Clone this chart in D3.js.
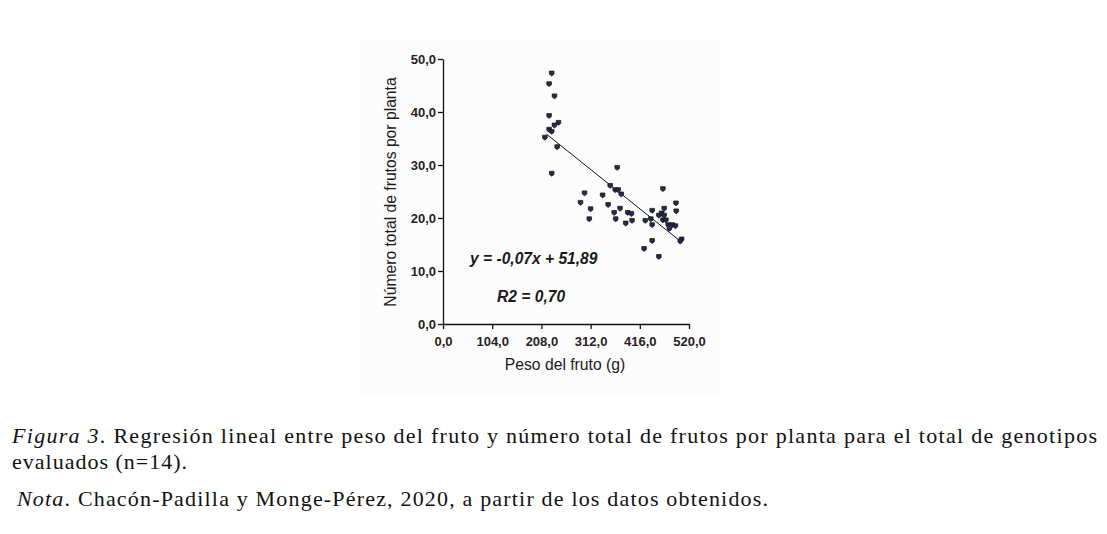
<!DOCTYPE html>
<html>
<head>
<meta charset="utf-8">
<script src="https://cdn.jsdelivr.net/npm/d3@7"></script>
<style>
  body { margin: 0; background: #fff; }
  svg { display: block; }
</style>
</head>
<body>
<script>
// peso del fruto (g) y numero total de frutos por planta
const pesoFruto = [
  229.8, 224.3, 235.6, 224.3, 244.1, 235.6, 224.3, 229.8, 215.4, 241.3, 229.8,
  368.2, 290.7, 299.2, 312.0, 309.2, 337.4, 349.1, 361.8, 353.4, 364.0, 370.3,
  376.7, 374.2, 365.0, 386.2, 390.5, 398.3, 399.6, 464.8, 442.1, 427.6, 439.3,
  442.1, 456.3, 462.0, 467.5, 467.5, 464.8, 471.1, 476.0, 484.5, 491.3, 478.6,
  492.4, 493.0, 504.5, 501.5, 442.1, 425.1, 456.3
];
const frutosPlanta = [
  47.3, 45.3, 43.0, 39.3, 38.0, 37.5, 36.7, 36.3, 35.2, 33.4, 28.4,
  29.5, 22.9, 24.7, 21.7, 19.8, 24.3, 22.5, 21.0, 26.1, 25.3, 25.3,
  24.5, 21.8, 19.8, 19.0, 21.0, 20.8, 19.5, 25.5, 21.4, 19.5, 19.8,
  18.7, 20.5, 20.9, 20.5, 21.8, 19.6, 19.6, 18.7, 18.7, 18.5, 18.0,
  22.8, 21.3, 16.0, 15.6, 15.7, 14.2, 12.7
];
// extremos de la recta de regresion
const rectaX = [219, 503.5];
const rectaY = [35.8, 15.5];
// marcas de los ejes
const ticksX = [0, 104, 208, 312, 416, 520];
const ticksY = [0, 10, 20, 30, 40, 50];

const width = 1107, height = 534;
const fmt = v => d3.format(".1f")(v).replace(".", ",");
const sans = "'Liberation Sans', Arial, sans-serif";

const svg = d3.select("body").append("svg")
  .attr("width", width)
  .attr("height", height);

// fondo de la imagen del grafico
svg.append("rect")
  .attr("x", 360).attr("y", 40)
  .attr("width", 360).attr("height", 355)
  .attr("fill", "#fcfcfc");

const x = d3.scaleLinear().domain([0, 520]).range([443, 689]);
const y = d3.scaleLinear().domain([0, 50]).range([324, 59]);

// eje x
const gx = svg.append("g")
  .attr("transform", `translate(0,${y(0)})`)
  .call(d3.axisBottom(x).tickValues(ticksX).tickFormat(fmt)
    .tickSize(5).tickSizeOuter(0).tickPadding(8));

// eje y
const gy = svg.append("g")
  .attr("transform", `translate(${x(0)},0)`)
  .call(d3.axisLeft(y).tickValues(ticksY).tickFormat(fmt)
    .tickSize(5).tickSizeOuter(0).tickPadding(2));

[gx, gy].forEach(g => {
  g.select(".domain").attr("stroke", "#111").attr("stroke-width", 1.3);
  g.selectAll(".tick line").attr("stroke", "#111").attr("stroke-width", 1.3);
  g.selectAll(".tick text")
    .attr("fill", "#2a1c22")
    .style("font-family", sans)
    .style("font-weight", "bold")
    .style("font-size", "13px");
});

// titulos de los ejes
svg.append("text")
  .attr("x", 565).attr("y", 369.5)
  .attr("text-anchor", "middle")
  .style("font-family", sans)
  .style("font-size", "15.7px")
  .attr("fill", "#1a1a1a")
  .text("Peso del fruto (g)");

svg.append("text")
  .attr("transform", "translate(396,192) rotate(-90)")
  .attr("text-anchor", "middle")
  .style("font-family", sans)
  .style("font-size", "15.7px")
  .attr("fill", "#1a1a1a")
  .text("Número total de frutos por planta");

// recta de regresion
svg.append("line")
  .attr("x1", x(rectaX[0])).attr("y1", y(rectaY[0]))
  .attr("x2", x(rectaX[1])).attr("y2", y(rectaY[1]))
  .attr("stroke", "#111")
  .attr("stroke-width", 1);

// puntos (forma de escudo pequeño)
const marca = "M-2.3,-2.2 L2.3,-2.2 L2.3,0.9 L0,2.7 L-2.3,0.9 Z";
svg.append("g").selectAll("path")
  .data(pesoFruto.map((p, i) => [p, frutosPlanta[i]]))
  .join("path")
  .attr("d", marca)
  .attr("transform", d => `translate(${x(d[0])},${y(d[1])})`)
  .attr("fill", "#252b48")
  .attr("stroke", "#111")
  .attr("stroke-width", 0.7);

// ecuacion y R2
svg.append("text")
  .attr("x", 470).attr("y", 264)
  .style("font-family", sans)
  .style("font-weight", "bold").style("font-style", "italic")
  .style("font-size", "15.6px")
  .attr("fill", "#1a1a1a")
  .text("y = -0,07x + 51,89");

svg.append("text")
  .attr("x", 497).attr("y", 302)
  .style("font-family", sans)
  .style("font-weight", "bold").style("font-style", "italic")
  .style("font-size", "15.6px")
  .attr("fill", "#1a1a1a")
  .text("R2 = 0,70");

// pie de figura
const serif = "'Liberation Serif', 'Times New Roman', serif";
const l1 = svg.append("text")
  .attr("x", 12).attr("y", 443)
  .attr("textLength", 1085).attr("lengthAdjust", "spacing")
  .style("font-family", serif).style("font-size", "22px").attr("fill", "#111");
l1.append("tspan").style("font-style", "italic").text("Figura 3");
l1.append("tspan").text(". Regresión lineal entre peso del fruto y número total de frutos por planta para el total de genotipos");

svg.append("text")
  .attr("x", 12).attr("y", 469)
  .attr("textLength", 175).attr("lengthAdjust", "spacing")
  .style("font-family", serif).style("font-size", "22px").attr("fill", "#111")
  .text("evaluados (n=14).");

const l3 = svg.append("text")
  .attr("x", 17).attr("y", 506)
  .attr("textLength", 751).attr("lengthAdjust", "spacing")
  .style("font-family", serif).style("font-size", "22px").attr("fill", "#111");
l3.append("tspan").style("font-style", "italic").text("Nota");
l3.append("tspan").text(". Chacón-Padilla y Monge-Pérez, 2020, a partir de los datos obtenidos.");
</script>
</body>
</html>
